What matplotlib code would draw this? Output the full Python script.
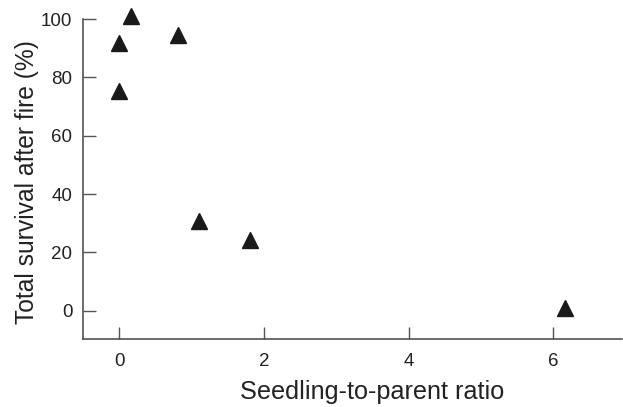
import matplotlib
matplotlib.use("Agg")
import matplotlib.pyplot as plt

plt.rcParams['font.family'] = ['Liberation Sans', 'DejaVu Sans']

ratio = [0.0, 0.0, 0.17, 0.82, 1.10, 1.81, 6.16]
survival = [91.8, 75.3, 101.0, 94.4, 30.8, 24.3, 0.9]
xticks = [0, 2, 4, 6]
yticks = [0, 20, 40, 60, 80, 100]

fig = plt.figure(figsize=(6.23, 4.07), dpi=100)
ax = fig.add_axes([82.8 / 623, (407 - 338.7) / 407, 539.4 / 623, 319.7 / 407])

ax.plot(ratio, survival, linestyle='none', marker='^', markersize=11.8,
        color='#1a1a1a', clip_on=False, zorder=3)

ax.set_xlim(-0.5, 6.95)
ax.set_ylim(-9.6, 100)
ax.set_xticks(xticks)
ax.set_yticks(yticks)

for s in ['top', 'right']:
    ax.spines[s].set_visible(False)
for s in ['left', 'bottom']:
    ax.spines[s].set_color('#444444')
    ax.spines[s].set_linewidth(1.1)

ax.tick_params(axis='both', direction='in', length=9, width=1.0,
               color='#555555', labelsize=13.5, labelcolor='#222222')
ax.tick_params(axis='x', pad=10.5)
ax.tick_params(axis='y', pad=7.5)

ax.set_xlabel('Seedling-to-parent ratio', fontsize=18.2, color='#222222', labelpad=6.7)
ax.set_ylabel('Total survival after fire (%)', fontsize=17.7, color='#222222', labelpad=1.5)
ax.xaxis.label.set_x(0.536)
ax.yaxis.label.set_y(0.49)

fig.savefig('out.png', dpi=100)
